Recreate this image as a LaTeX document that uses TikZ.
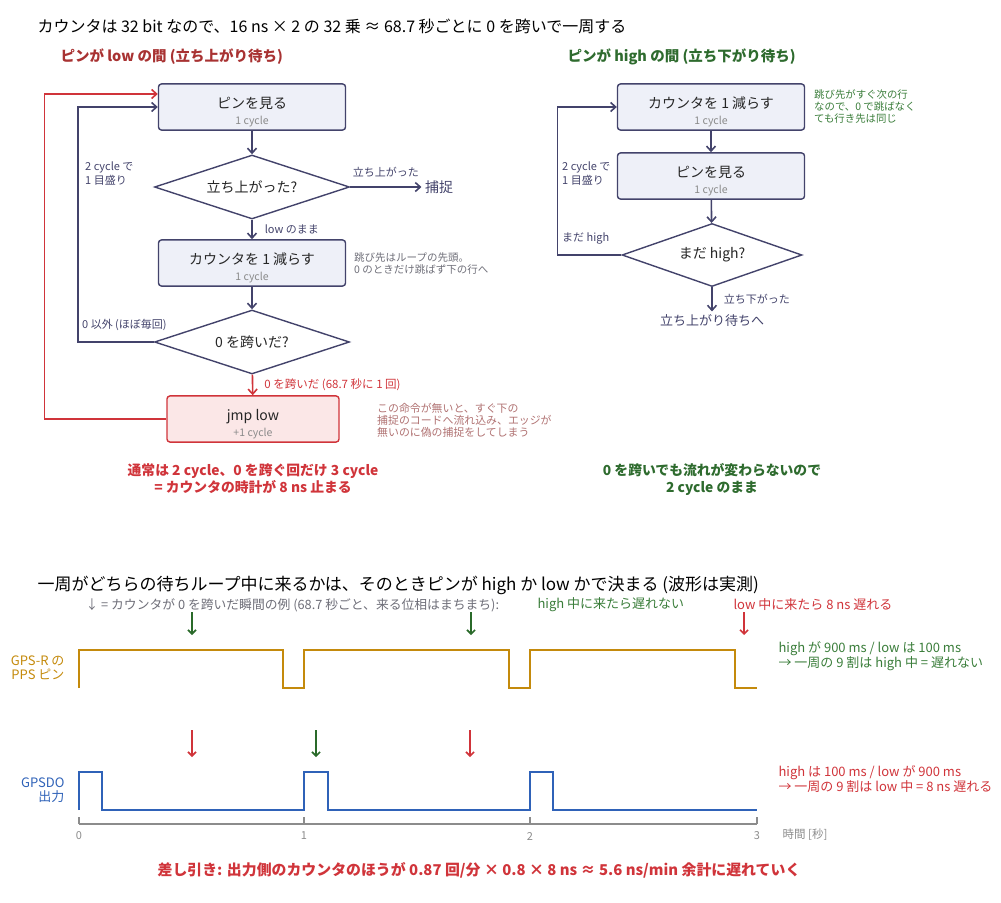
\documentclass[tikz,border=0pt]{standalone}
\usepackage{fontspec}
\setmainfont{Noto Sans CJK JP}
\usetikzlibrary{shapes.geometric,arrows.meta}

\definecolor{navy}{HTML}{43436B}
\definecolor{boxfill}{HTML}{EEF0F8}
\definecolor{flowred}{HTML}{D0343A}
\definecolor{jmpfill}{HTML}{FBE7E7}
\definecolor{headred}{HTML}{A83232}
\definecolor{headgreen}{HTML}{2E6B2E}
\definecolor{notegreen}{HTML}{3A7D3A}
\definecolor{notegray}{HTML}{6E6E78}
\definecolor{noterose}{HTML}{B07272}
\definecolor{cycgray}{HTML}{8A8A8A}
\definecolor{wgold}{HTML}{C48A0C}
\definecolor{wblue}{HTML}{2F62B8}
\definecolor{wgreen}{HTML}{2A6A2A}
\definecolor{axisgray}{HTML}{8C8C8C}

\newcommand{\fs}[2]{\fontsize{#1}{#2}\selectfont}
\newcommand{\boxlines}[2]{\rule{0pt}{21pt}#1\\{\fs{10.5}{11}\color{cycgray}#2}}

\tikzset{
  flowbox/.style={draw=navy, line width=1.4pt, fill=boxfill, rounded corners=3pt,
    minimum width=187pt, minimum height=46pt, align=center, text=black!85,
    font=\fs{14}{16}},
  decision/.style={draw=navy, line width=1.4pt, fill=white, diamond, aspect=3,
    inner sep=0pt, minimum width=195pt, minimum height=64pt, text=black!85,
    font=\fs{14}{16}},
  flow/.style={navy, line width=1.6pt, -{Straight Barb[length=5pt,width=9pt]}},
  redflow/.style={flow, draw=flowred},
  lbl/.style={text=navy, font=\fs{11}{14}, inner sep=1pt, align=left},
  note/.style={anchor=west, align=left, inner sep=0pt, font=\fs{10.5}{12}},
  wave/.style={line width=2.2pt, line join=miter},
  tickarrow/.style={line width=1.6pt, -{Straight Barb[length=4pt,width=8pt]}}
}

\begin{document}
\begin{tikzpicture}[x=1pt,y=-1pt]
\useasboundingbox (0,0) rectangle (1001,902);

% titles
\node[anchor=west, font=\fs{16}{18}] (title) at (34,26)
  {カウンタは 32 bit なので、16 ns × 2 の 32 乗 ≈ 68.7 秒ごとに 0 を跨いで一周する};
\node[anchor=west, font=\fs{14.5}{16}\bfseries, text=headred] (lowhead) at (57,57)
  {ピンが low の間 (立ち上がり待ち)};
\node[anchor=west, font=\fs{14.5}{16}\bfseries, text=headgreen] (highhead) at (564,57)
  {ピンが high の間 (立ち下がり待ち)};

% left loop: wait for rising edge
\node[flowbox] (look) at (252,107) {\boxlines{ピンを見る}{1 cycle}};
\node[decision] (rise) at (252,187) {立ち上がった?};
\node[flowbox] (dec) at (252,263) {\boxlines{カウンタを 1 減らす}{1 cycle}};
\node[decision] (cross) at (252,342) {0 を跨いだ?};
\node[flowbox, draw=flowred, fill=jmpfill, minimum width=172pt] (jmp) at (253,419)
  {\boxlines{jmp low}{+1 cycle}};
\node[text=navy, font=\fs{14}{16}] (capt) at (439,187) {捕捉};

\draw[flow] (look) -- (rise);
\draw[flow] (rise) -- (capt) node[lbl, midway, above=8pt] (roseLbl) {立ち上がった};
\draw[flow] (rise) -- (dec) node[lbl, midway, right=11pt] (stayLbl) {low のまま};
\draw[flow] (dec) -- (cross);
\draw[redflow] (cross) -- (jmp)
  node[lbl, text=flowred, font=\fs{11.5}{14}, midway, right=10pt] (crossLbl) {0 を跨いだ (68.7 秒に 1 回)};
\draw[flow] (cross.west) -- +(-76,0) |- (look.west);
\draw[redflow] (jmp.west) -- +(-122,0) |- ([yshift=13pt]look.west);

\node[lbl, anchor=west] (tickL) at (84,174) {2 cycle で\\1 目盛り};
\node[lbl, anchor=west] (notzero) at (81,325) {0 以外 (ほぼ毎回)};
\node[note, text=notegray] (decNote) at (354,264)
  {跳び先はループの先頭。\\0 のときだけ跳ばず下の行へ};
\node[note, text=noterose, font=\fs{10.9}{12}] (jmpNote) at (377,420)
  {この命令が無いと、すぐ下の\\捕捉のコードへ流れ込み、エッジが\\無いのに偽の捕捉をしてしまう};
\node[align=center, font=\fs{13.8}{17}\bfseries, text=flowred] (lowSum) at (253,479)
  {通常は 2 cycle、0 を跨ぐ回だけ 3 cycle\\= カウンタの時計が 8 ns 止まる};

% right loop: wait for falling edge
\node[flowbox] (dec2) at (711,107) {\boxlines{カウンタを 1 減らす}{1 cycle}};
\node[flowbox] (look2) at (711,176) {\boxlines{ピンを見る}{1 cycle}};
\node[decision, minimum width=180pt, minimum height=63pt] (still) at (712,255) {まだ high?};
\node[text=navy, font=\fs{13}{15}] (towait) at (712,321) {立ち上がり待ちへ};

\draw[flow] (dec2) -- (look2);
\draw[flow] (look2) -- (still);
\draw[flow] (still) -- (towait) node[lbl, midway, right=10pt] (fallLbl) {立ち下がった};
\draw[flow] (still.west) -- +(-64,0) |- (dec2.west);

\node[lbl, anchor=west] (tickR) at (561,174) {2 cycle で\\1 目盛り};
\node[lbl, anchor=west] (stillLbl) at (561,238) {まだ high};
\node[note, text=notegreen, font=\fs{10.4}{12}] (dec2Note) at (814,107)
  {跳び先がすぐ次の行\\なので、0 で跳ばなく\\ても行き先は同じ};
\node[align=center, font=\fs{13.8}{17}\bfseries, text=headgreen] (highSum) at (712,479)
  {0 を跨いでも流れが変わらないので\\2 cycle のまま};

% waveforms
\node[anchor=west, font=\fs{17}{19}] (title2) at (34,585)
  {一周がどちらの待ちループ中に来るかは、そのときピンが high か low かで決まる (波形は実測)};
\node[anchor=west, font=\fs{12.8}{14}, text=notegray] (legend) at (82,605)
  {↓ = カウンタが 0 を跨いだ瞬間の例 (68.7 秒ごと、来る位相はまちまち):};
\node[anchor=west, font=\fs{13}{15}, text=notegreen] (okLbl) at (534,605) {high 中に来たら遅れない};
\node[anchor=west, font=\fs{13}{15}, text=flowred] (lateLbl) at (730,605) {low 中に来たら 8 ns 遅れる};

\draw[tickarrow, wgreen] (192,612) -- (192,635);
\draw[tickarrow, wgreen] (471,612) -- (471,635);
\draw[tickarrow, flowred] (744,612) -- (744,635);
\draw[tickarrow, flowred] (192,730) -- (192,757);
\draw[tickarrow, wgreen] (316,730) -- (316,757);
\draw[tickarrow, flowred] (470,730) -- (470,757);

\draw[wave, wgold] (79,688) -- (79,650) -- (283,650) -- (283,688) -- (304,688) -- (304,650)
  -- (509,650) -- (509,688) -- (530,688) -- (530,650) -- (735,650) -- (735,688) -- (757,688);
\draw[wave, wblue] (79,810) -- (79,772) -- (102,772) -- (102,810) -- (304,810) -- (304,772)
  -- (328,772) -- (328,810) -- (530,810) -- (530,772) -- (553,772) -- (553,810) -- (757,810);

\node[anchor=east, align=right, font=\fs{13}{14}, text=wgold] (ppsLbl) at (68,668) {GPS-R の\\PPS ピン};
\node[anchor=east, align=right, font=\fs{13}{14}, text=wblue] (outLbl) at (68,790) {GPSDO\\出力};

\node[anchor=west, align=left, font=\fs{13}{15}, text=notegreen] (ppsNote) at (775,656)
  {high が 900 ms / low は 100 ms\\→ 一周の 9 割は high 中 = 遅れない};
\node[anchor=west, align=left, font=\fs{13}{15}, text=flowred] (outNote) at (775,779)
  {high は 100 ms / low が 900 ms\\→ 一周の 9 割は low 中 = 8 ns 遅れる};

% time axis
\draw[axisgray, line width=1.2pt] (79,824) -- (757,824);
\foreach \x/\t in {79/0,304/1,530/2,757/3} {
  \draw[axisgray, line width=1.2pt] (\x,824) -- (\x,817);
  \node[text=axisgray, font=\fs{11}{12}] (t\t) at (\x,836) {\t};
}
\node[anchor=west, text=axisgray, font=\fs{11.5}{12}] (timeLbl) at (779,835) {時間 [秒]};

\node[font=\fs{14.9}{17}\bfseries, text=flowred] (total) at (479,870)
  {差し引き: 出力側のカウンタのほうが 0.87 回/分 × 0.8 × 8 ns ≈ 5.6 ns/min 余計に遅れていく};

\end{tikzpicture}
\end{document}
